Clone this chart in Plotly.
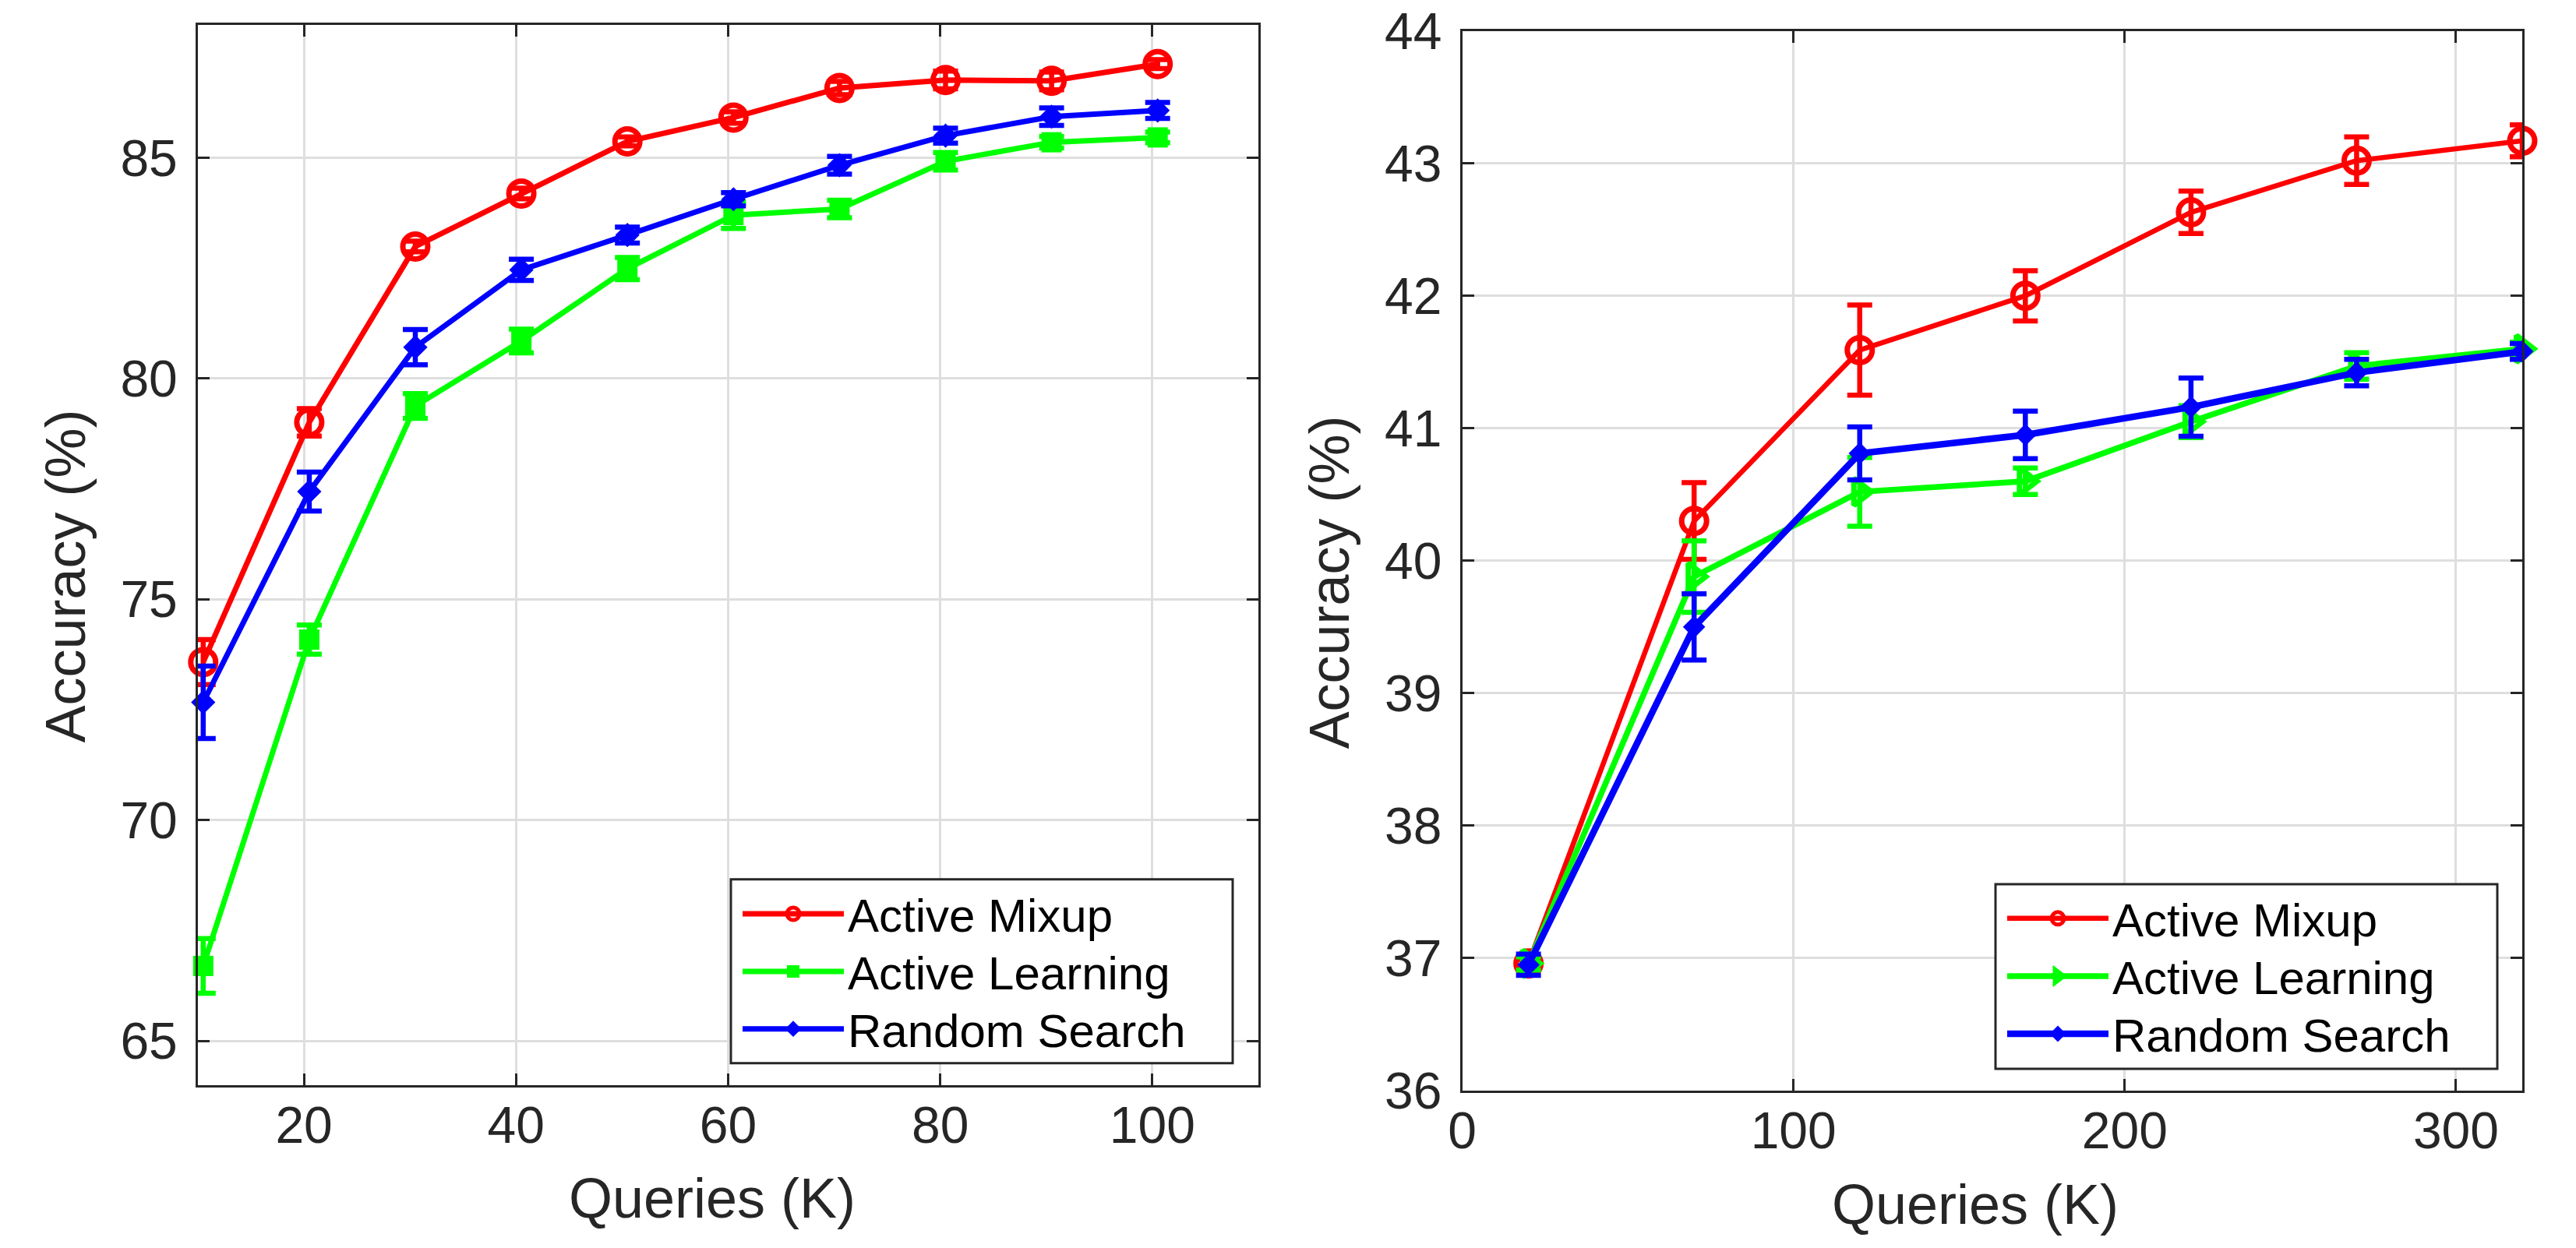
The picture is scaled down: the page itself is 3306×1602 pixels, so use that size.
import plotly.graph_objects as go

W, H = 3306, 1602

# ---- left panel data (Queries in K, accuracy %, std) ----
q_left = [10.5, 20.5, 30.5, 40.5, 50.5, 60.5, 70.5, 80.5, 90.5, 100.5]
mixup_left = [73.58, 79.01, 82.99, 84.19, 85.37, 85.91, 86.58, 86.76, 86.74, 87.12]
mixup_left_err = [0.51, 0.31, 0.12, 0.12, 0.10, 0.13, 0.15, 0.20, 0.20, 0.10]
al_left = [66.70, 74.09, 79.38, 80.85, 82.49, 83.70, 83.84, 84.92, 85.35, 85.46]
al_left_err = [0.62, 0.33, 0.28, 0.27, 0.25, 0.30, 0.20, 0.20, 0.13, 0.12]
rs_left = [72.67, 77.44, 80.71, 82.46, 83.25, 84.06, 84.83, 85.50, 85.93, 86.07]
rs_left_err = [0.82, 0.44, 0.40, 0.24, 0.18, 0.15, 0.20, 0.17, 0.20, 0.18]

# ---- right panel data ----
q_right = [20, 70, 120, 170, 220, 270, 320]
mixup_right = [36.96, 40.30, 41.59, 42.00, 42.63, 43.02, 43.17]
mixup_right_err = [0.03, 0.29, 0.34, 0.19, 0.16, 0.18, 0.12]
al_right = [36.96, 39.88, 40.52, 40.60, 41.05, 41.47, 41.60]
al_right_err = [0.05, 0.27, 0.26, 0.10, 0.12, 0.10, 0.05]
rs_right = [36.95, 39.50, 40.81, 40.95, 41.16, 41.42, 41.58]
rs_right_err = [0.08, 0.25, 0.20, 0.18, 0.22, 0.10, 0.06]

names = ["Active Mixup", "Active Learning", "Random Search"]
colors = ["#ff0000", "#00ff00", "#0000ff"]

FONT = "Liberation Sans, Arial, Helvetica, sans-serif"
AX = "#262626"


def px_x(p):
    return p / W


def px_y(p):
    return 1 - p / H


fig = go.Figure()


def add_series(x, y, err, name, color, symbol, msize, mline, lw, xa, ya, legend):
    fig.add_trace(go.Scatter(
        x=x, y=y, name=name, mode="lines+markers",
        xaxis=xa, yaxis=ya, legend=legend, cliponaxis=False,
        line=dict(color=color, width=lw),
        marker=dict(symbol=symbol, size=msize, color=color,
                    line=dict(color=color, width=mline)),
        error_y=dict(type="data", array=err, visible=True, color=color,
                     thickness=6.5, width=16),
    ))


# one legend per entry so each row can sit where the reference has it
add_series(q_left, mixup_left, mixup_left_err, names[0], colors[0], "circle-open", 32, 7, 7, "x", "y", "legend")
add_series(q_left, al_left, al_left_err, names[1], colors[1], "square", 26, 0, 7, "x", "y", "legend2")
add_series(q_left, rs_left, rs_left_err, names[2], colors[2], "diamond", 24, 0, 7, "x", "y", "legend3")

add_series(q_right, mixup_right, mixup_right_err, names[0], colors[0], "circle-open", 32, 7, 6.5, "x2", "y2", "legend4")
add_series(q_right, al_right, al_right_err, names[1], colors[1], "triangle-right-open", 30, 7, 7.5, "x2", "y2", "legend5")
add_series(q_right, rs_right, rs_right_err, names[2], colors[2], "diamond", 22, 0, 8.5, "x2", "y2", "legend6")

axis_common = dict(
    showline=True, linecolor=AX, linewidth=3, mirror="ticks",
    ticks="inside", ticklen=15, tickwidth=3, tickcolor=AX,
    showgrid=True, gridcolor="#dedede", gridwidth=2.5,
    zeroline=False, automargin=False, ticklabeloverflow="allow",
    tickfont=dict(family=FONT, size=66, color=AX),
)

legend_common = dict(
    xanchor="left", yanchor="middle",
    bgcolor="rgba(0,0,0,0)", borderwidth=0,
    font=dict(family=FONT, size=60, color="black"),
    itemwidth=130, itemsizing="trace",
)

rows_left = [1165, 1239, 1312.7]
rows_right = [1170.8, 1245, 1319]

legends = {}
for i, ry in enumerate(rows_left):
    key = "legend" if i == 0 else "legend%d" % (i + 1)
    legends[key] = dict(legend_common, x=px_x(940), y=px_y(ry))
for i, ry in enumerate(rows_right):
    legends["legend%d" % (i + 4)] = dict(legend_common, x=px_x(2563), y=px_y(ry))

fig.update_layout(
    width=W, height=H,
    margin=dict(l=0, r=0, t=0, b=0),
    paper_bgcolor="white", plot_bgcolor="white",
    font=dict(family=FONT, color=AX),
    xaxis=dict(axis_common, domain=[px_x(246), px_x(1607)], range=[10, 110],
               tick0=0, dtick=20, anchor="y", ticklabelstandoff=-8),
    yaxis=dict(axis_common, domain=[px_y(1385), px_y(24.4)], range=[64, 88],
               tick0=0, dtick=5, anchor="x", ticklabelstandoff=10),
    xaxis2=dict(axis_common, domain=[px_x(1868.6), px_x(3229)], range=[0, 320],
                tick0=0, dtick=100, anchor="y2", ticklabelstandoff=-8),
    yaxis2=dict(axis_common, domain=[px_y(1392), px_y(31.6)], range=[36, 44],
                tick0=0, dtick=1, anchor="x2", ticklabelstandoff=10),
    showlegend=True,
    **legends,
)

# legend frames (white boxes under the legend entries)
for x0, x1, y0, y1 in [(930, 1574, 1120.7, 1356.7), (2553, 3197, 1127, 1364)]:
    fig.add_shape(type="rect", xref="paper", yref="paper", layer="above",
                  x0=px_x(x0), x1=px_x(x1), y0=px_y(y1), y1=px_y(y0),
                  fillcolor="white", line=dict(color=AX, width=3))

title_font = dict(family=FONT, size=72, color=AX)
fig.add_annotation(text="Queries (K)", xref="paper", yref="paper",
                   x=px_x(906), y=px_y(1530), showarrow=False,
                   xanchor="center", yanchor="middle", font=title_font)
fig.add_annotation(text="Queries (K)", xref="paper", yref="paper",
                   x=px_x(2527), y=px_y(1538), showarrow=False,
                   xanchor="center", yanchor="middle", font=title_font)
fig.add_annotation(text="Accuracy (%)", xref="paper", yref="paper",
                   x=px_x(75.5), y=px_y(732), showarrow=False, textangle=-90,
                   xanchor="center", yanchor="middle", font=title_font)
fig.add_annotation(text="Accuracy (%)", xref="paper", yref="paper",
                   x=px_x(1698), y=px_y(739.5), showarrow=False, textangle=-90,
                   xanchor="center", yanchor="middle", font=title_font)

fig.write_html("out.html")
